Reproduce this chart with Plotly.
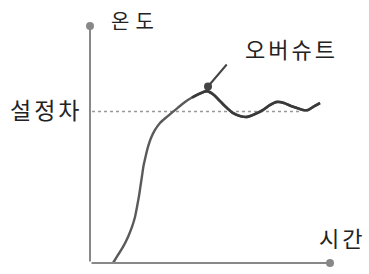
import plotly.graph_objects as go

# Response curve: time (arbitrary units) vs temperature (% of setpoint)
time_vals = [23, 28, 33, 38, 42, 45, 47, 49, 50.5, 52, 53.5, 55.5, 58, 61, 65, 70, 76, 82, 88, 95,
             102, 109, 117, 124, 130, 137, 143, 150, 157, 165, 173, 180, 187, 194, 201, 207, 213, 218, 223, 230]
temp_vals = [0, 5.3, 10.6, 17.2, 23.8, 30.4, 37.0, 44.2, 50.8, 57.4, 64.0, 70.0, 76.6, 82.5, 87.8, 92.4, 96.0, 99.3, 102.6, 106.3,
             109.2, 111.6, 113.4, 110.9, 106.9, 102.3, 99.0, 97.0, 96.4, 98.3, 101.0, 104.3, 106.3, 105.6, 103.6, 102.3, 101.0, 101.0, 103.0, 105.6]

setpoint = 100
setpoint_span = [2, 210]
overshoot_point = [118, 116.5]
overshoot_tail = [138, 132]

label_y = "온도"
label_x = "시간"
label_sp = "설정차"
label_os = "오버슈트"

FONT = "Noto Sans CJK KR, Noto Sans, sans-serif"

fig = go.Figure()

# setpoint dotted line
fig.add_trace(go.Scatter(x=setpoint_span, y=[setpoint, setpoint], mode="lines",
                         line=dict(color="#999999", width=1.5, dash="dot"),
                         hoverinfo="skip", showlegend=False))

# response curve (rise in lighter gray, settling part darker)
fig.add_trace(go.Scatter(x=time_vals, y=temp_vals, mode="lines",
                         line=dict(color="#5a5a5a", width=2.4, shape="spline", smoothing=0.7),
                         hoverinfo="skip", showlegend=False))
k = time_vals.index(102)
fig.add_trace(go.Scatter(x=time_vals[k:], y=temp_vals[k:], mode="lines",
                         line=dict(color="#3a3a3a", width=2.7, shape="spline", smoothing=0.7),
                         hoverinfo="skip", showlegend=False))

# axes with dot heads
fig.add_annotation(x=0, y=156.4, ax=0, ay=0, xref="x", yref="y", axref="x", ayref="y",
                   showarrow=True, arrowhead=6, arrowsize=1, arrowwidth=2,
                   arrowcolor="#888888", text="")
fig.add_annotation(x=240, y=0, ax=0, ay=0, xref="x", yref="y", axref="x", ayref="y",
                   showarrow=True, arrowhead=6, arrowsize=1, arrowwidth=2,
                   arrowcolor="#888888", text="")

# overshoot pointer
fig.add_annotation(x=overshoot_point[0], y=overshoot_point[1],
                   ax=overshoot_tail[0], ay=overshoot_tail[1],
                   xref="x", yref="y", axref="x", ayref="y",
                   showarrow=True, arrowhead=6, arrowsize=1, arrowwidth=2,
                   arrowcolor="#444444", text="")


def spaced(txt, ls):
    return '<span style="letter-spacing:%spx">%s</span>' % (ls, txt)


fig.add_annotation(x=42.5 + 3, y=160.1, text=spaced(label_y, 6), showarrow=False,
                   font=dict(family=FONT, size=20, color="#222222"),
                   xanchor="center", yanchor="middle")
fig.add_annotation(x=-46 + 1.5, y=101.7, text=spaced(label_sp, 3), showarrow=False,
                   font=dict(family=FONT, size=23, color="#222222"),
                   xanchor="center", yanchor="middle")
fig.add_annotation(x=200 + 1.5, y=142.2, text=spaced(label_os, 3), showarrow=False,
                   font=dict(family=FONT, size=22, color="#222222"),
                   xanchor="center", yanchor="middle")
fig.add_annotation(x=250 + 1.5, y=17.2, text=spaced(label_x, 3), showarrow=False,
                   font=dict(family=FONT, size=22, color="#222222"),
                   xanchor="center", yanchor="middle")

fig.update_layout(
    width=369, height=274,
    margin=dict(l=0, r=0, t=0, b=0),
    paper_bgcolor="white", plot_bgcolor="white",
    xaxis=dict(range=[-90, 279], visible=False, fixedrange=True),
    yaxis=dict(range=[-7.26, 173.6], visible=False, fixedrange=True),
)

fig.write_html("out.html", config={"displayModeBar": False},
               post_script="document.body.style.margin='0px';document.body.style.overflow='hidden';")
